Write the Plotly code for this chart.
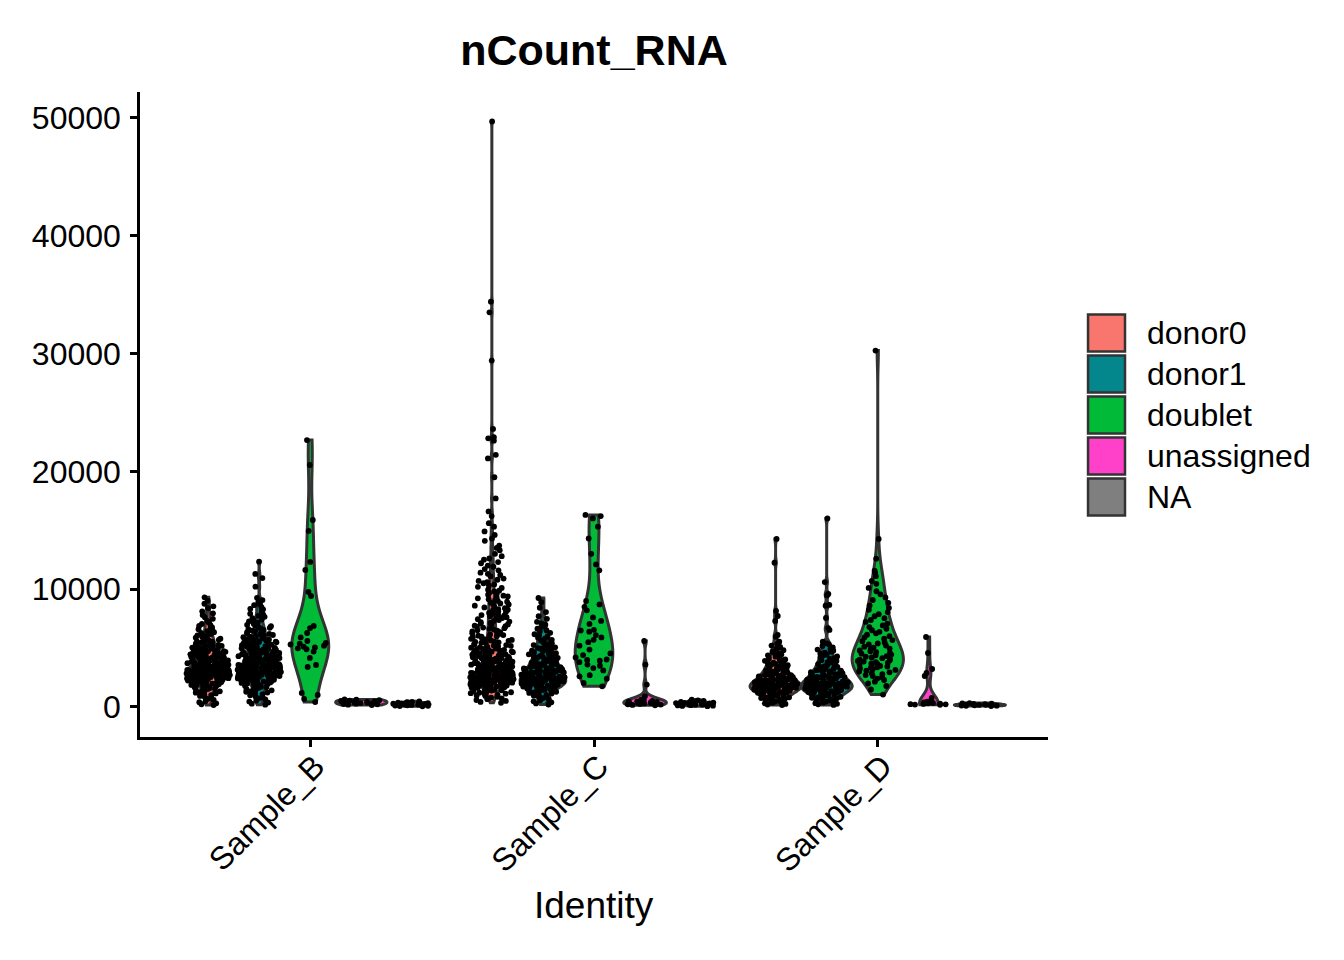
import plotly.graph_objects as go

samples = ["Sample_B", "Sample_C", "Sample_D"]
identities = ["donor0", "donor1", "doublet", "unassigned", "NA"]
fill_colors = ["#F8766D", "#03878C", "#00BA38", "#FF40C8", "#7F7F7F"]

# nCount_RNA per cell
b_donor0 = [9310, 9020, 8760, 8540, 8390, 8120, 7950, 7800, 7620, 7480, 7310, 7190, 7040, 6950,
            6880, 6760, 6690, 6600, 6530, 6440, 6350, 6280, 6190, 6120, 6070, 6000, 5940, 5880,
            5820, 5790, 5760, 5700, 5610, 5570, 5530, 5480, 5440, 5400, 5370, 5310, 5260, 5220,
            5180, 5150, 5110, 5070, 5040, 5000, 4960, 4930, 4910, 4870, 4830, 4800, 4770, 4740,
            4720, 4680, 4640, 4610, 4580, 4550, 4530, 4500, 4470, 4440, 4420, 4400, 4390, 4360,
            4330, 4300, 4270, 4250, 4230, 4200, 4170, 4140, 4120, 4100, 4080, 4050, 4020, 4000,
            3970, 3960, 3950, 3920, 3890, 3870, 3850, 3830, 3810, 3780, 3760, 3740, 3730, 3710,
            3690, 3660, 3640, 3620, 3610, 3590, 3580, 3560, 3540, 3520, 3500, 3480, 3470, 3460,
            3450, 3430, 3410, 3390, 3370, 3350, 3340, 3330, 3320, 3300, 3280, 3260, 3250, 3240,
            3230, 3210, 3190, 3180, 3170, 3150, 3140, 3120, 3110, 3100, 3090, 3070, 3060, 3040,
            3030, 3020, 3010, 2990, 2980, 2970, 2960, 2940, 2930, 2920, 2910, 2890, 2880, 2870,
            2860, 2850, 2840, 2820, 2810, 2800, 2790, 2780, 2770, 2750, 2740, 2730, 2720, 2710,
            2700, 2680, 2670, 2660, 2650, 2630, 2620, 2610, 2600, 2580, 2570, 2550, 2540, 2520,
            2500, 2490, 2470, 2460, 2440, 2420, 2400, 2380, 2370, 2350, 2330, 2300, 2280, 2260,
            2240, 2220, 2190, 2170, 2140, 2120, 2100, 2070, 2050, 2010, 1980, 1950, 1920, 1900,
            1870, 1840, 1810, 1780, 1740, 1710, 1670, 1640, 1600, 1560, 1520, 1470, 1430, 1380,
            1330, 1270, 1210, 1150, 1080, 1010, 940, 870, 780, 690, 590, 480, 400, 310, 230, 160]
b_donor1 = [12330, 11290, 10940, 10210, 9260, 9070, 8900, 8710, 8640, 8470, 8330, 8290, 8110, 7910,
            7830, 7740, 7650, 7530, 7420, 7350, 7270, 7150, 7060, 6970, 6910, 6850, 6780, 6720,
            6660, 6610, 6540, 6480, 6420, 6360, 6300, 6250, 6200, 6160, 6110, 6070, 6010, 5960,
            5920, 5870, 5830, 5790, 5750, 5720, 5680, 5640, 5600, 5550, 5520, 5490, 5450, 5420,
            5380, 5330, 5300, 5280, 5240, 5200, 5170, 5140, 5110, 5090, 5050, 5010, 4980, 4950,
            4930, 4910, 4870, 4840, 4810, 4780, 4760, 4740, 4700, 4670, 4650, 4620, 4590, 4560,
            4540, 4520, 4490, 4470, 4440, 4410, 4390, 4370, 4340, 4310, 4290, 4260, 4240, 4220,
            4190, 4170, 4150, 4130, 4100, 4080, 4060, 4040, 4010, 3990, 3970, 3950, 3930, 3910,
            3880, 3860, 3840, 3820, 3800, 3790, 3760, 3740, 3720, 3700, 3680, 3660, 3640, 3630,
            3610, 3590, 3570, 3550, 3530, 3510, 3500, 3480, 3460, 3440, 3420, 3400, 3390, 3370,
            3350, 3330, 3310, 3300, 3280, 3260, 3240, 3230, 3210, 3190, 3170, 3160, 3140, 3130,
            3110, 3090, 3070, 3060, 3040, 3020, 3000, 2990, 2970, 2960, 2940, 2920, 2900, 2890,
            2870, 2860, 2840, 2820, 2800, 2790, 2770, 2750, 2730, 2720, 2700, 2680, 2660, 2650,
            2630, 2610, 2590, 2570, 2550, 2530, 2510, 2490, 2460, 2440, 2420, 2400, 2370, 2350,
            2320, 2300, 2270, 2250, 2220, 2190, 2160, 2130, 2100, 2070, 2040, 2000, 1970, 1930,
            1890, 1850, 1810, 1770, 1720, 1680, 1630, 1580, 1530, 1470, 1410, 1350, 1290, 1220,
            1150, 1070, 990, 900, 820, 730, 640, 550, 460, 370, 280, 190]
b_doublet = [22650, 20540, 15870, 14940, 12310, 11630, 9760, 9420, 6880, 6700, 6280, 5900, 5600,
             5430, 5380, 5300, 5200, 5120, 5050, 4980, 4900, 4700, 4160, 3570, 3400, 1190, 1020,
             680, 420]
b_unassigned = [640, 610, 580, 540, 515, 480, 455, 430, 400, 385, 360, 330, 310, 280, 250, 220,
                190, 160]
b_na = [480, 430, 400, 370, 340, 320, 300, 280, 265, 250, 235, 220, 205, 190, 175, 160, 140, 120,
        100, 80, 60]

c_donor0 = [49700, 34400, 33500, 29400, 23600, 22900, 22800, 22600, 21400, 21100, 19500, 17700,
            16600, 16200, 15600, 15300, 14900, 14600, 14300, 14100, 13700, 13500, 13300, 13000,
            12800, 12600, 12500, 12300, 12200, 12000, 11900, 11700, 11600, 11400, 11300, 11200,
            11100, 10900, 10800, 10700, 10600, 10500, 10400, 10300, 10200, 10100, 9950, 9870,
            9800, 9700, 9600, 9530, 9450, 9380, 9300, 9220, 9150, 9080, 9000, 8930, 8850, 8780,
            8700, 8650, 8600, 8520, 8450, 8380, 8300, 8250, 8200, 8120, 8050, 7980, 7900, 7850,
            7800, 7750, 7700, 7620, 7550, 7500, 7450, 7380, 7300, 7250, 7200, 7140, 7080, 7010,
            6950, 6900, 6850, 6800, 6740, 6690, 6630, 6570, 6510, 6470, 6420, 6360, 6300, 6250,
            6210, 6150, 6100, 6050, 6010, 5960, 5920, 5870, 5830, 5780, 5740, 5690, 5650, 5610,
            5570, 5530, 5490, 5440, 5400, 5360, 5330, 5290, 5250, 5210, 5180, 5140, 5100, 5060,
            5030, 4990, 4960, 4920, 4890, 4850, 4820, 4780, 4750, 4720, 4690, 4650, 4620, 4590,
            4560, 4530, 4500, 4470, 4440, 4410, 4380, 4350, 4320, 4290, 4260, 4240, 4210, 4180,
            4150, 4130, 4100, 4070, 4040, 4020, 3990, 3970, 3940, 3920, 3890, 3870, 3840, 3820,
            3790, 3770, 3740, 3720, 3700, 3680, 3650, 3630, 3610, 3590, 3560, 3540, 3520, 3500,
            3480, 3460, 3430, 3410, 3390, 3370, 3350, 3330, 3310, 3290, 3270, 3250, 3230, 3210,
            3190, 3170, 3150, 3130, 3110, 3100, 3080, 3060, 3040, 3020, 3000, 2990, 2970, 2950,
            2930, 2920, 2900, 2880, 2860, 2850, 2830, 2810, 2790, 2780, 2760, 2740, 2730, 2710,
            2700, 2680, 2660, 2650, 2630, 2620, 2600, 2590, 2570, 2560, 2540, 2530, 2510, 2500,
            2480, 2470, 2450, 2440, 2420, 2410, 2390, 2380, 2360, 2350, 2330, 2320, 2300, 2290,
            2270, 2260, 2240, 2230, 2210, 2200, 2180, 2170, 2150, 2140, 2120, 2110, 2090, 2080,
            2060, 2050, 2030, 2020, 2000, 1990, 1970, 1960, 1940, 1930, 1910, 1890, 1880, 1860,
            1840, 1830, 1810, 1790, 1770, 1750, 1730, 1710, 1690, 1670, 1650, 1630, 1600, 1580,
            1560, 1530, 1510, 1480, 1450, 1420, 1390, 1360, 1330, 1290, 1250, 1210, 1170, 1130,
            1080, 1030, 980, 920, 860, 800, 730, 660, 590, 510, 430, 350]
c_donor1 = [9250, 8890, 8420, 8050, 7710, 7480, 7230, 7090, 6980, 6810, 6640, 6520, 6410, 6290,
            6170, 6060, 5960, 5870, 5790, 5700, 5620, 5550, 5480, 5400, 5310, 5250, 5190, 5120,
            5060, 5000, 4940, 4890, 4830, 4780, 4720, 4670, 4610, 4560, 4520, 4470, 4430, 4380,
            4340, 4290, 4250, 4210, 4170, 4130, 4090, 4050, 4010, 3970, 3940, 3900, 3870, 3830,
            3800, 3760, 3730, 3700, 3670, 3640, 3610, 3580, 3550, 3520, 3490, 3460, 3430, 3400,
            3380, 3350, 3320, 3290, 3270, 3240, 3220, 3190, 3170, 3140, 3120, 3090, 3070, 3040,
            3020, 3000, 2980, 2950, 2930, 2910, 2890, 2870, 2850, 2820, 2800, 2780, 2760, 2740,
            2720, 2700, 2680, 2660, 2640, 2620, 2600, 2580, 2560, 2540, 2530, 2510, 2490, 2470,
            2450, 2430, 2420, 2400, 2380, 2360, 2350, 2330, 2310, 2290, 2280, 2260, 2240, 2220,
            2210, 2190, 2170, 2150, 2140, 2120, 2100, 2080, 2070, 2050, 2030, 2020, 2000, 1980,
            1960, 1940, 1930, 1910, 1890, 1870, 1850, 1830, 1810, 1790, 1770, 1750, 1730, 1700,
            1680, 1650, 1630, 1600, 1570, 1540, 1510, 1480, 1440, 1410, 1370, 1330, 1290, 1240,
            1190, 1140, 1080, 1020, 960, 890, 820, 740, 660, 570, 480, 390, 300, 210]
c_doublet = [16300, 16200, 16000, 15300, 14300, 13000, 12100, 11600, 9000, 8700, 8500, 8200, 7600,
             7300, 7050, 6550, 6490, 6390, 6100, 5900, 5700, 5500, 5200, 4870, 4540, 4400, 4200,
             4030, 3990, 3930, 3800, 3600, 3500, 3300, 3100, 2700, 2600, 2400, 2040, 1750]
c_unassigned = [5600, 3600, 1900, 920, 710, 620, 560, 510, 480, 450, 420, 400, 380, 360, 340, 320,
                300, 280, 260, 230, 200, 170, 140]
c_na = [610, 560, 520, 480, 450, 420, 390, 370, 350, 330, 310, 290, 270, 250, 230, 210, 190, 170,
        150, 130, 110, 90, 70]

d_donor0 = [14260, 12250, 8150, 7720, 7300, 6110, 5970, 5540, 5380, 5210, 5090, 4960, 4820, 4690,
            4600, 4520, 4450, 4380, 4270, 4160, 4090, 4030, 3970, 3920, 3860, 3810, 3760, 3700,
            3650, 3600, 3550, 3510, 3470, 3430, 3380, 3340, 3300, 3260, 3220, 3190, 3150, 3110,
            3080, 3040, 3010, 2970, 2940, 2910, 2880, 2850, 2820, 2790, 2760, 2730, 2710, 2680,
            2650, 2620, 2600, 2570, 2550, 2520, 2500, 2470, 2450, 2430, 2410, 2380, 2360, 2340,
            2320, 2300, 2280, 2260, 2240, 2220, 2200, 2180, 2160, 2140, 2120, 2110, 2090, 2070,
            2050, 2040, 2020, 2000, 1990, 1970, 1950, 1940, 1920, 1910, 1890, 1880, 1860, 1850,
            1830, 1820, 1800, 1790, 1770, 1760, 1740, 1730, 1710, 1700, 1680, 1670, 1650, 1640,
            1620, 1610, 1590, 1580, 1560, 1550, 1530, 1520, 1500, 1480, 1470, 1450, 1430, 1420,
            1400, 1380, 1360, 1340, 1320, 1300, 1280, 1260, 1240, 1220, 1200, 1170, 1150, 1130,
            1100, 1080, 1050, 1030, 1000, 970, 940, 910, 880, 850, 820, 780, 750, 710, 670, 630,
            590, 550, 500, 460, 410, 360, 310, 260, 210, 160]
d_donor1 = [16000, 10600, 9590, 9480, 8660, 8600, 7550, 6700, 6540, 5540, 5400, 5320, 5180, 5050,
            4950, 4870, 4780, 4690, 4600, 4510, 4430, 4360, 4290, 4220, 4150, 4090, 4030, 3970,
            3910, 3850, 3800, 3740, 3690, 3640, 3590, 3540, 3500, 3450, 3410, 3360, 3320, 3280,
            3240, 3200, 3160, 3120, 3090, 3050, 3020, 2980, 2950, 2910, 2880, 2850, 2820, 2790,
            2760, 2730, 2700, 2670, 2640, 2620, 2590, 2560, 2540, 2510, 2490, 2460, 2440, 2410,
            2390, 2370, 2340, 2320, 2300, 2280, 2250, 2230, 2210, 2190, 2170, 2150, 2130, 2110,
            2090, 2070, 2050, 2030, 2010, 1990, 1970, 1950, 1940, 1920, 1900, 1880, 1860, 1850,
            1830, 1810, 1790, 1780, 1760, 1740, 1720, 1710, 1690, 1670, 1650, 1640, 1620, 1600,
            1580, 1570, 1550, 1530, 1510, 1490, 1470, 1450, 1430, 1410, 1390, 1370, 1350, 1330,
            1310, 1280, 1260, 1240, 1210, 1190, 1160, 1140, 1110, 1080, 1050, 1020, 990, 960,
            930, 890, 860, 820, 780, 740, 700, 660, 610, 570, 520, 470, 420, 370, 320, 270, 220,
            170]
d_doublet = [30250, 14260, 12590, 11570, 11370, 11100, 10700, 10450, 10100, 9820, 9560, 9300, 9080,
             8840, 8620, 8410, 8250, 8050, 7880, 7700, 7540, 7380, 7220, 7070, 6920, 6780, 6640,
             6510, 6380, 6250, 6130, 6010, 5900, 5790, 5680, 5580, 5480, 5390, 5300, 5210, 5120,
             5040, 4960, 4880, 4800, 4730, 4660, 4590, 4520, 4450, 4390, 4320, 4260, 4200, 4140,
             4080, 4020, 3970, 3910, 3860, 3800, 3750, 3700, 3640, 3590, 3540, 3480, 3430, 3370,
             3320, 3260, 3200, 3140, 3080, 3010, 2940, 2870, 2790, 2710, 2620, 2520, 2410, 2290,
             2150, 1990, 1780, 1490, 1050]
d_unassigned = [5940, 4580, 3220, 2890, 2630, 760, 450, 420, 390, 360, 340, 310, 290, 260, 240,
                220, 200, 180]
d_na = [330, 300, 280, 260, 240, 220, 200, 185, 170, 155, 140, 125, 110, 95, 80]

per_sample = {
    "Sample_B": [b_donor0, b_donor1, b_doublet, b_unassigned, b_na],
    "Sample_C": [c_donor0, c_donor1, c_doublet, c_unassigned, c_na],
    "Sample_D": [d_donor0, d_donor1, d_doublet, d_unassigned, d_na],
}
# kernel bandwidths per identity (None = plotly default); D unassigned is smoother
bandwidths = {"donor0": 250, "donor1": 250, "doublet": None, "unassigned": 300, "NA": None}
bw_override = {("Sample_D", "unassigned"): 650}

FONT = "Liberation Sans, Arial, sans-serif"

fig = go.Figure()
for s in samples:
    for ident, col, vals in zip(identities, fill_colors, per_sample[s]):
        fig.add_trace(go.Violin(
            x=[s] * len(vals), y=vals, name=ident,
            offsetgroup=ident, legendgroup=ident,
            fillcolor=col, line=dict(color="#333333", width=3),
            points="all", jitter=0.85, pointpos=0,
            marker=dict(color="black", size=5.8),
            spanmode="hard", scalemode="width",
            bandwidth=bw_override.get((s, ident), bandwidths[ident]),
            showlegend=False, hoverinfo="skip",
        ))

# legend drawn by hand (big square keys like ggplot)
ann = [dict(text="Identity", xref="paper", yref="paper", x=0.5, y=-0.262,
            xanchor="center", yanchor="middle", showarrow=False,
            font=dict(family=FONT, size=37, color="black"))]
shapes = []
plot_h = 645
for i, (ident, col) in enumerate(zip(identities, fill_colors)):
    cy = (737 - (333 + 41 * i)) / plot_h
    hh = 18.5 / plot_h
    shapes.append(dict(type="rect", xref="paper", yref="paper",
                       x0=1.0441, x1=1.0848, y0=cy - hh, y1=cy + hh,
                       fillcolor=col, line=dict(color="#333333", width=2.5)))
    ann.append(dict(text=ident, xref="paper", yref="paper", x=1.107, y=cy,
                    xanchor="left", yanchor="middle", showarrow=False,
                    font=dict(family=FONT, size=32, color="black")))

# page body has an 8px margin, so the figure is 8px smaller than the window
fig.update_layout(
    width=1336, height=952,
    margin=dict(l=132, r=296, t=84, b=223),
    paper_bgcolor="white", plot_bgcolor="white",
    violinmode="group", violingap=0.1, violingroupgap=0,
    title=dict(text="nCount_RNA", x=0.5, xref="paper", y=1 - 42 / 952, yref="container",
               xanchor="center", yanchor="middle",
               font=dict(family=FONT, size=43, color="black", weight="bold")),
    font=dict(family=FONT, color="black"),
    annotations=ann, shapes=shapes,
)
fig.update_xaxes(
    categoryorder="array", categoryarray=samples, range=[-0.6, 2.6],
    showline=True, linecolor="black", linewidth=2.5,
    ticks="outside", ticklen=7, tickwidth=2.5, tickcolor="black",
    tickangle=-45, ticklabelstandoff=-12, ticklabelshift=5,
    tickfont=dict(family=FONT, size=32, color="black"),
    showgrid=False, zeroline=False,
)
fig.update_yaxes(
    range=[-2550, 52200], tickvals=[0, 10000, 20000, 30000, 40000, 50000], tickformat="d",
    showline=True, linecolor="black", linewidth=2.5,
    ticks="outside", ticklen=7, tickwidth=2.5, tickcolor="black",
    ticklabelstandoff=3, tickfont=dict(family=FONT, size=32, color="black"),
    showgrid=False, zeroline=False,
)

fig.write_html("out.html")
